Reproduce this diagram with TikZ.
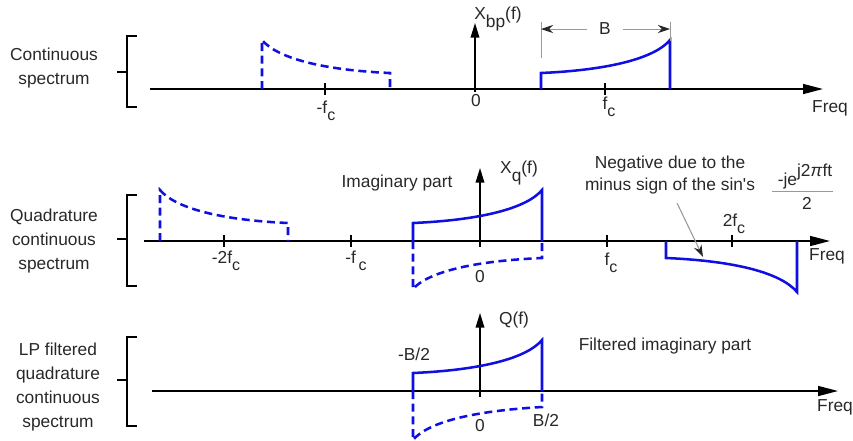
\documentclass[tikz,border=0pt]{standalone}
\usepackage{fontspec}
\setmainfont{Liberation Sans}
\usetikzlibrary{arrows.meta}
\definecolor{specblue}{RGB}{15,15,225}
\definecolor{txt}{RGB}{40,40,40}
\newcommand{\subc}{\raisebox{-0.8ex}{\fontsize{12}{14}\selectfont c}}
\begin{document}
\begin{tikzpicture}[x=0.75pt,y=-0.75pt,
  lbl/.style={font=\fontsize{13}{18}\selectfont, text=txt, inner sep=0pt, align=center},
  axis/.style={line width=1.1pt, -{Triangle[length=15pt,width=7.5pt]}},
  yax/.style={line width=1.1pt, -{Triangle[length=11pt,width=6.5pt]}},
  tickm/.style={line width=1.5pt},
  brk/.style={line width=1.5pt},
  spec/.style={specblue, line width=1.9pt, line join=miter},
  specd/.style={spec, dash pattern=on 6pt off 3.5pt},
  dim/.style={black!40, line width=0.7pt},
  dimtip/.style={-{Stealth[length=9pt,width=6pt,color=black!85]}},
]
\useasboundingbox (0,0) rectangle (853,440);

% ---------------- Panel 1 ----------------
\coordinate (a1s) at (150,89); \coordinate (a1e) at (823,89);
\coordinate (y1s) at (475,92); \coordinate (y1e) at (475,23);
\draw[axis] (a1s) -- (a1e);
\draw[yax] (y1s) -- (y1e);
\draw[tickm] (325,83) -- (325,95);
\draw[tickm] (605,83) -- (605,95);
\draw[brk] (137,36) -- (127,36) -- (127,107) -- (137,107);
\draw[brk] (117,72) -- (127,72);
\node[lbl] (t1) at (54,68) {Continuous\\spectrum};
\begin{scope}[shift={(541,89)}]
  \draw[spec] (0,0) -- (0,-16) .. controls (69,-19) and (114,-31) .. (129,-49) -- (129,0);
\end{scope}
\begin{scope}[shift={(262,89)}]
  \draw[specd] (0,0) -- (0,-49) .. controls (15,-31) and (60,-19) .. (128,-16) -- (128,0);
\end{scope}
\node[lbl] (mfc1) at (326,111) {-f\subc};
\node[lbl] (z1) at (476,101) {0};
\node[lbl] (fc1) at (609,107) {f\subc};
\node[lbl] (xbp) at (498,19) {X\raisebox{-0.8ex}{bp}(f)};
\node[lbl] (fr1) at (830,108) {Freq};
% B dimension
\coordinate (dl) at (541,29); \coordinate (dr) at (670,29);
\draw[dim] (541,22) -- (541,58);
\draw[dim] (670,22) -- (670,41);
\node[lbl, inner xsep=9pt] (B) at (605,29) {B};
\draw[dim, dimtip] (B.west) -- (dl);
\draw[dim, dimtip] (B.east) -- (dr);

% ---------------- Panel 2 ----------------
\coordinate (a2s) at (144,241); \coordinate (a2e) at (830,241);
\coordinate (y2s) at (480,247); \coordinate (y2e) at (480,168);
\draw[axis] (a2s) -- (a2e);
\draw[yax] (y2s) -- (y2e);
\draw[tickm] (224,235) -- (224,247);
\draw[tickm] (351,235) -- (351,247);
\draw[tickm] (607,235) -- (607,247);
\draw[tickm] (732,235) -- (732,247);
\draw[brk] (137,195) -- (127,195) -- (127,286) -- (137,286);
\draw[brk] (117,239) -- (127,239);
\node[lbl] (t2) at (54,241) {Quadrature\\continuous\\spectrum};
\begin{scope}[shift={(160,241)}]
  \draw[specd] (0,0) -- (0,-51) .. controls (15,-33) and (60,-21) .. (128,-18) -- (128,0);
\end{scope}
\begin{scope}[shift={(413,241)}]
  \draw[spec] (0,0) -- (0,-18) .. controls (69,-21) and (114,-33) .. (129,-51) -- (129,0);
\end{scope}
\begin{scope}[shift={(413,241)}, yscale=-1]
  \draw[specd] (0,0) -- (0,-48) .. controls (15,-31) and (60,-20) .. (129,-17) -- (129,0);
\end{scope}
\begin{scope}[shift={(666,241)}, yscale=-1]
  \draw[spec] (0,0) -- (0,-17) .. controls (70,-20) and (115,-32) .. (131,-51) -- (131,0);
\end{scope}
\node[lbl] (m2fc) at (226,261) {-2f\subc};
\node[lbl] (mfc2) at (356,261) {-f\hspace{2pt}\subc};
\node[lbl] (z2) at (480,277) {0};
\node[lbl] (fc2) at (611,263) {f\subc};
\node[lbl] (tfc2) at (734,224) {2f\subc};
\node[lbl] (xq) at (519,173) {X\raisebox{-0.8ex}{q}(f)};
\node[lbl] (imag) at (397,183) {Imaginary part};
\node[lbl, font=\fontsize{13}{16}\selectfont] (neg) at (670,175) {Negative due to the\\minus sign of the sin\textquotesingle s};
\node[lbl] (fr2) at (827,256) {Freq};
\coordinate (an1) at (677,203); \coordinate (an2) at (703,257);
\draw[dim, line width=0.8pt, -{Stealth[length=9pt,width=6pt,color=black!85]}] (an1) -- (an2);
% fraction
\node[lbl, anchor=base] (num) at (805,185) {-je\raisebox{0.9ex}{j2\textit{π}ft}};
\coordinate (fl) at (772,191); \coordinate (fr) at (833,191);
\draw[dim] (fl) -- (fr);
\node[lbl] (den) at (807,203) {2};

% ---------------- Panel 3 ----------------
\coordinate (a3s) at (152,391); \coordinate (a3e) at (838,391);
\coordinate (y3s) at (480,397); \coordinate (y3e) at (480,313);
\draw[axis] (a3s) -- (a3e);
\draw[yax] (y3s) -- (y3e);
\draw[brk] (137,337) -- (127,337) -- (127,426) -- (137,426);
\draw[brk] (117,380) -- (127,380);
\node[lbl] (t3) at (58,387) {LP filtered\\quadrature\\continuous\\spectrum};
\begin{scope}[shift={(413,391)}]
  \draw[spec] (0,0) -- (0,-18) .. controls (69,-21) and (114,-33) .. (129,-51) -- (129,0);
\end{scope}
\begin{scope}[shift={(413,391)}, yscale=-1]
  \draw[specd] (0,0) -- (0,-49) .. controls (15,-31) and (60,-20) .. (129,-16) -- (129,0);
\end{scope}
\node[lbl] (qf) at (514,320) {Q(f)};
\node[lbl] (mb2) at (414,354) {-B/2};
\node[lbl] (z3) at (480,426) {0};
\node[lbl] (b2) at (546,420) {B/2};
\node[lbl] (filt) at (665,346) {Filtered imaginary part};
\node[lbl] (fr3) at (835,407) {Freq};
\end{tikzpicture}
\end{document}
